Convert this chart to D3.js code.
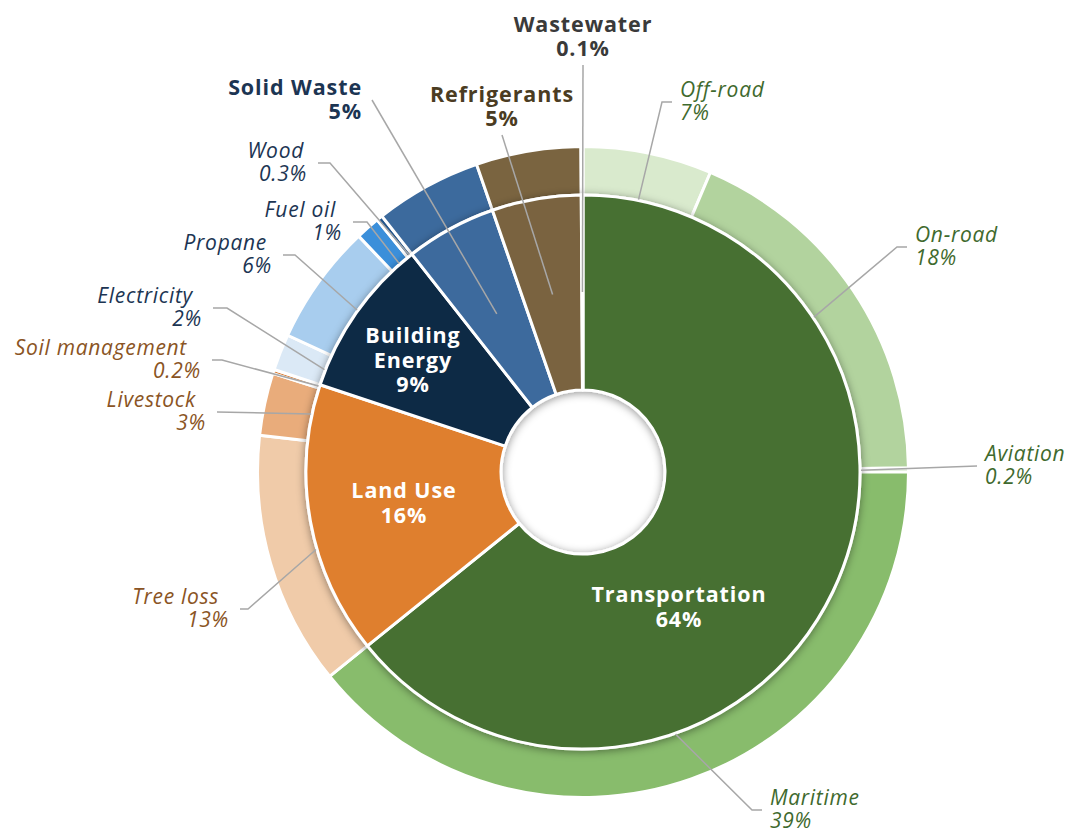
<!DOCTYPE html>
<html>
<head>
<meta charset="utf-8">
<script src="https://cdn.jsdelivr.net/npm/d3@7/dist/d3.min.js"></script>
<style>
  html, body { margin: 0; padding: 0; background: #ffffff; }
  svg { display: block; }
  text { font-family: "Open Sans", "Noto Sans", sans-serif; }
</style>
</head>
<body>
<svg id="chart" width="1067" height="830"></svg>
<script>
// ---------- DATA ----------
const categories = ["Transportation", "Land Use", "Building Energy", "Solid Waste", "Refrigerants", "Wastewater"];
const categoryValues = [64.2, 15.9, 9.3, 5.3, 5.2, 0.1];
const categoryPct = ["64%", "16%", "9%", "5%", "5%", "0.1%"];

const subcategories = ["Off-road", "On-road", "Aviation", "Maritime",
  "Tree loss", "Livestock", "Soil management",
  "Electricity", "Propane", "Fuel oil", "Wood",
  "Solid Waste", "Refrigerants", "Wastewater"];
const subParents = ["Transportation", "Transportation", "Transportation", "Transportation",
  "Land Use", "Land Use", "Land Use",
  "Building Energy", "Building Energy", "Building Energy", "Building Energy",
  "Solid Waste", "Refrigerants", "Wastewater"];
const subValues = [6.4, 18.4, 0.2, 39.2, 12.6, 3.1, 0.2, 1.8, 6.0, 1.2, 0.3, 5.3, 5.2, 0.1];
const subPct = ["7%", "18%", "0.2%", "39%", "13%", "3%", "0.2%", "2%", "6%", "1%", "0.3%", "", "", ""];

// ---------- STYLE ----------
const innerColors = {
  "Transportation": "#476f33", "Land Use": "#df7f2f", "Building Energy": "#0d2944",
  "Solid Waste": "#3c6a9d", "Refrigerants": "#7a6440", "Wastewater": "#8a8a8a"
};
const outerColors = {
  "Off-road": "#d9eacd", "On-road": "#b2d39e", "Aviation": "#9cc784", "Maritime": "#88bc6c",
  "Tree loss": "#f0cba9", "Livestock": "#e9ac7b", "Soil management": "#d9782c",
  "Electricity": "#dbe9f6", "Propane": "#a8cdee", "Fuel oil": "#3b8fda", "Wood": "#24568c",
  "Solid Waste": "#3c6a9d", "Refrigerants": "#7a6440", "Wastewater": "#8a8a8a"
};
const groupTextColor = {
  "Transportation": "#3f6a2e", "Land Use": "#8a5424", "Building Energy": "#1c3553"
};
const boldTextColor = { "Solid Waste": "#1c3553", "Refrigerants": "#4b3c22", "Wastewater": "#3a3a3a" };

// label layout (offsets from chart centre)
const outerLabelLayout = {
  "Off-road":        { elbow: [79, -370],  end: 89,   side: "r" },
  "On-road":         { elbow: [314, -225], end: 324,  side: "r" },
  "Aviation":        { elbow: [394, -6],   end: 394,  side: "r" },
  "Maritime":        { elbow: [169, 338],  end: 179,  side: "r" },
  "Tree loss":       { elbow: [-335, 137], end: -343, side: "l", shift: -10 },
  "Livestock":       { elbow: [-366, -60], end: -366, side: "l", shift: -10 },
  "Soil management": { elbow: [-361, -112],end: -371, side: "l", shift: -14 },
  "Electricity":     { elbow: [-356, -164],end: -370, side: "l", shift: -9 },
  "Propane":         { elbow: [-288, -217],end: -300, side: "l", shift: -5 },
  "Fuel oil":        { elbow: [-216, -250],end: -230, side: "l", shift: -6 },
  "Wood":            { elbow: [-253, -309],end: -265, side: "l", shift: -3 }
};
const innerOutsideLayout = {
  "Solid Waste":  { end: [-211, -372], text: [-221, -377], anchor: "end" },
  "Refrigerants": { end: [-81, -337],  text: [-81, -370],  anchor: "middle" },
  "Wastewater":   { end: [0, -407],    text: [0, -440],    anchor: "middle" }
};
const innerInsideLayout = {
  "Transportation":  { pos: [96, 130] },
  "Land Use":        { pos: [-179, 26] },
  "Building Energy": { pos: [-170, -129], lines: ["Building", "Energy"] }
};

// ---------- CHART ----------
const cx = 583, cy = 472;
const svg = d3.select("#chart");
const defs = svg.append("defs");
const f = defs.append("filter").attr("id", "shadow")
  .attr("x", "-20%").attr("y", "-20%").attr("width", "140%").attr("height", "140%");
f.append("feDropShadow").attr("dx", 0).attr("dy", 1.5).attr("stdDeviation", 4)
  .attr("flood-color", "#000").attr("flood-opacity", 0.42);

const g = svg.append("g").attr("transform", `translate(${cx},${cy})`);

const pie = d3.pie().sort(null).value(d => d.value);
const innerData = pie(categories.map((c, i) => ({ name: c, value: categoryValues[i], pct: categoryPct[i] })));
const outerData = pie(subcategories.map((s, i) => ({ name: s, parent: subParents[i], value: subValues[i], pct: subPct[i] })));

const outerArc = d3.arc().innerRadius(277).outerRadius(325.5);
const innerArc = d3.arc().innerRadius(82).outerRadius(277);

g.append("g").selectAll("path").data(outerData).join("path")
  .attr("d", outerArc)
  .attr("fill", d => outerColors[d.data.name])
  .attr("stroke", "#fff").attr("stroke-width", 3).attr("stroke-linejoin", "round");

g.append("g").attr("filter", "url(#shadow)")
  .selectAll("path").data(innerData).join("path")
  .attr("d", innerArc)
  .attr("fill", d => innerColors[d.data.name])
  .attr("stroke", "#fff").attr("stroke-width", 3).attr("stroke-linejoin", "round");

// leader lines
const outerLeaderArc = d3.arc().innerRadius(278).outerRadius(278);
const innerLeaderArc = d3.arc().innerRadius(180).outerRadius(180);
const leaders = g.append("g").attr("fill", "none").attr("stroke", "#a7a7a7").attr("stroke-width", 1.5);

outerData.forEach(d => {
  const L = outerLabelLayout[d.data.name];
  if (!L) return;
  const s = outerLeaderArc.centroid(d);
  leaders.append("path").attr("d", d3.line()([s, L.elbow, [L.end, L.elbow[1]]]));
  const right = L.side === "r";
  const tx = right ? L.end + 8 : L.end - 11;
  const t = g.append("text")
    .attr("text-anchor", right ? "start" : "end")
    .attr("font-style", "italic").attr("font-size", 21).attr("letter-spacing", 0.7)
    .attr("fill", groupTextColor[d.data.parent]);
  t.append("tspan").attr("x", tx + (L.shift || 0)).attr("y", L.elbow[1] - 5).text(d.data.name);
  t.append("tspan").attr("x", tx).attr("y", L.elbow[1] + 18).text(d.data.pct);
});

innerData.forEach(d => {
  const L = innerOutsideLayout[d.data.name];
  if (!L) return;
  const s = innerLeaderArc.centroid(d);
  leaders.append("path").attr("d", d3.line()([s, L.end]));
  const t = g.append("text")
    .attr("text-anchor", L.anchor)
    .attr("font-weight", 700).attr("font-size", 21.5).attr("letter-spacing", 0.9)
    .attr("fill", boldTextColor[d.data.name]);
  t.append("tspan").attr("x", L.text[0]).attr("y", L.text[1]).text(d.data.name);
  t.append("tspan").attr("x", L.text[0]).attr("y", L.text[1] + 24).text(d.data.pct);
});

innerData.forEach(d => {
  const L = innerInsideLayout[d.data.name];
  if (!L) return;
  const lines = (L.lines || [d.data.name]).concat([d.data.pct]);
  const t = g.append("text")
    .attr("text-anchor", "middle")
    .attr("font-weight", 700).attr("font-size", 21.5).attr("letter-spacing", 0.9)
    .attr("fill", "#ffffff");
  lines.forEach((ln, i) => {
    t.append("tspan").attr("x", L.pos[0]).attr("y", L.pos[1] + i * 24.5).text(ln);
  });
});
</script>
</body>
</html>
